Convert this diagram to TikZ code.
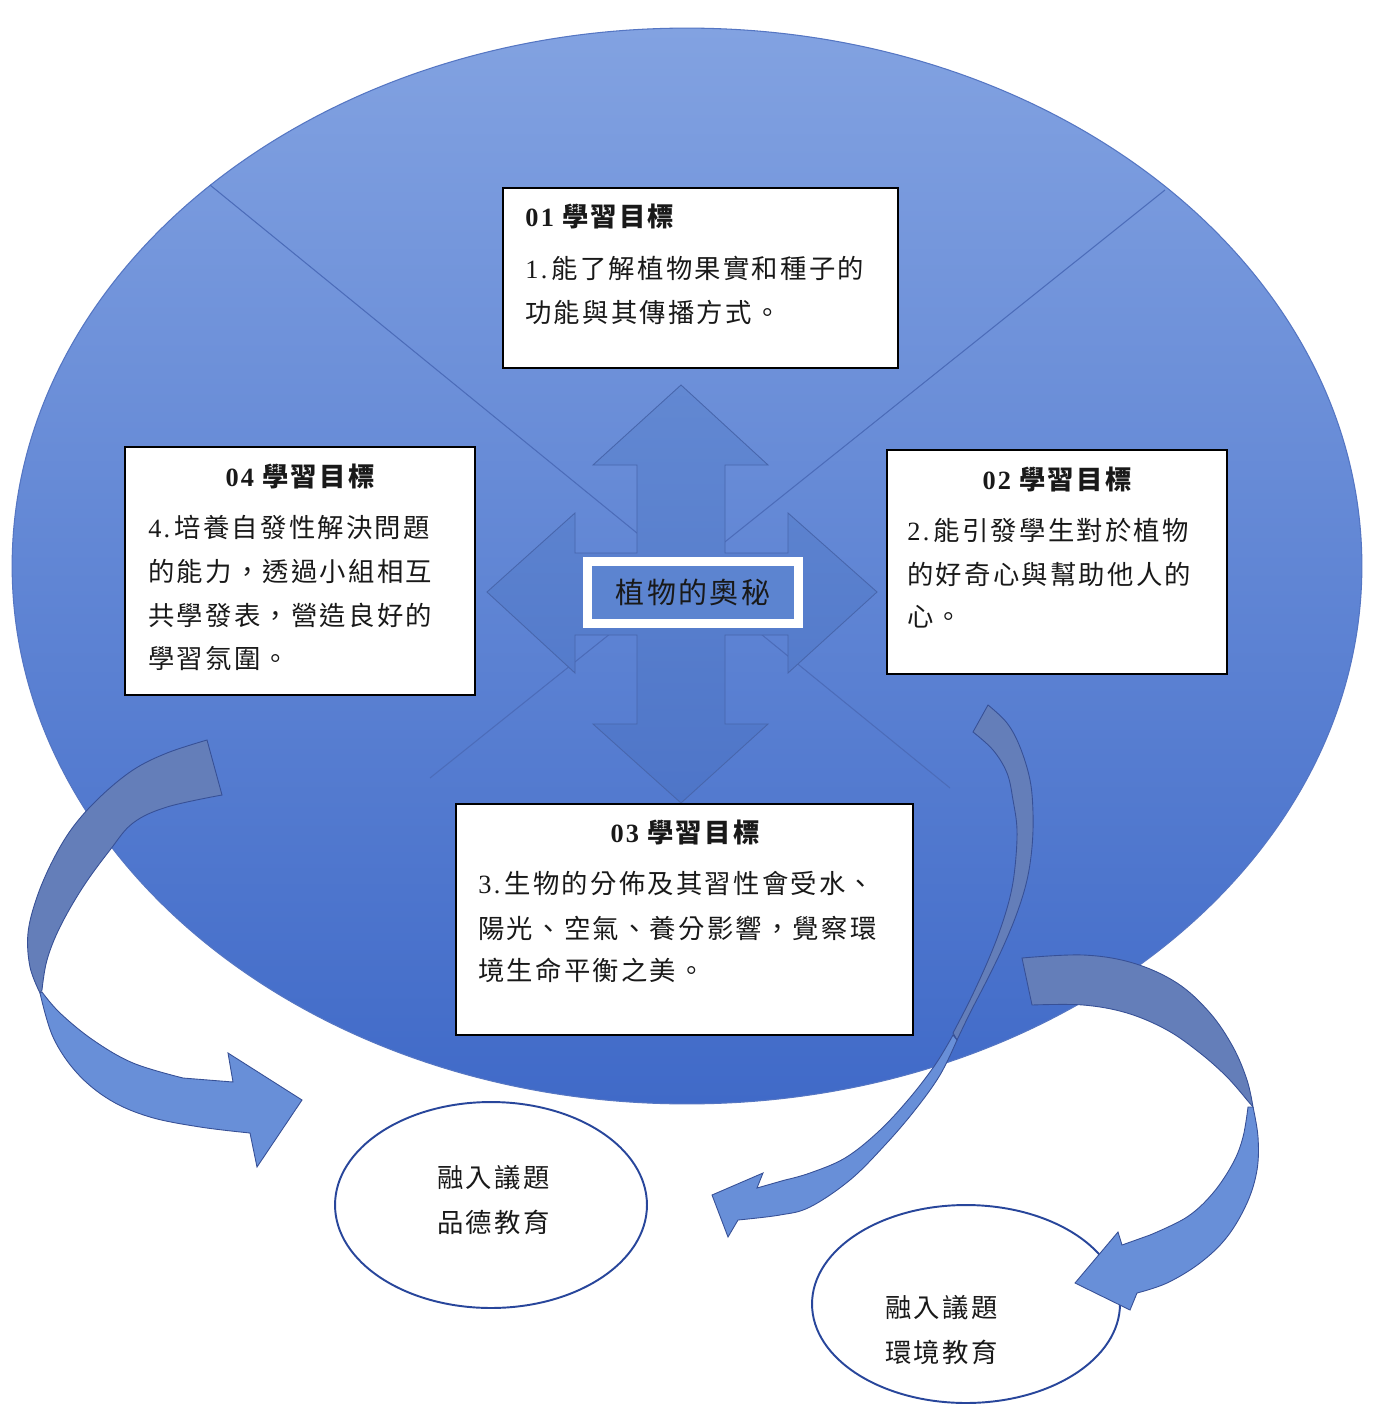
\documentclass[tikz,border=0pt]{standalone}
\usepackage{fontspec}
\setmainfont{Noto Sans CJK TC}[LetterSpace=8.5]
\newfontfamily\dg{Liberation Serif}[LetterSpace=8.5]
\usetikzlibrary{shapes.geometric}
\definecolor{ellTop}{RGB}{130,162,225}
\definecolor{ellBot}{RGB}{64,106,200}
\definecolor{ellEdge}{RGB}{85,118,195}
\definecolor{xline}{RGB}{76,108,185}
\definecolor{crossTop}{RGB}{98,136,210}
\definecolor{crossBot}{RGB}{78,117,200}
\definecolor{crossEdge}{RGB}{72,102,172}
\definecolor{centerFill}{RGB}{92,132,208}
\definecolor{ribDark}{RGB}{100,126,185}
\definecolor{ribLight}{RGB}{104,143,216}
\definecolor{ribEdge}{RGB}{55,80,150}
\definecolor{ovalEdge}{RGB}{40,70,155}
\definecolor{ink}{RGB}{25,25,25}
\begin{document}
\begin{tikzpicture}[x=0.02cm,y=-0.02cm,
  goalbox/.style={draw=black,fill=white,line width=0.9pt,inner sep=0pt},
  oval/.style={ellipse,draw=ovalEdge,fill=white,line width=1.1pt,inner sep=0pt},
  txt/.style={font=\fontsize{15pt}{18pt}\selectfont,text=ink,inner sep=0pt,anchor=west},
  ttl/.style={font=\fontsize{15pt}{18pt}\selectfont\bfseries,text=ink,inner sep=0pt},
  xl/.style={draw=xline,line width=0.6pt},
  ribD/.style={fill=ribDark,draw=ribEdge,line width=0.5pt},
  ribL/.style={fill=ribLight,draw=ribEdge,line width=0.5pt}]
\useasboundingbox (0,0) rectangle (1375,1405);
\fill[white] (0,0) rectangle (1375,1405);

% big ellipse
\node[ellipse,minimum width=27cm,minimum height=21.52cm,inner sep=0pt,
  top color=ellTop,bottom color=ellBot,draw=ellEdge,line width=0.6pt] (bg) at (687,566) {};

% diagonal lines (fade into the darker lower part)
\coordinate (tl) at (210,185);
\coordinate (tr) at (1165,190);
\coordinate (mid) at (686,573);
\coordinate (bl) at (430,778);
\coordinate (br) at (950,788);
\draw[xl] (tl) -- (mid) -- (br);
\draw[xl] (tr) -- (mid) -- (bl);

% four-way arrow
\shadedraw[top color=crossTop,bottom color=crossBot,draw=crossEdge,line width=0.5pt]
 (681,385) -- (768,465) -- (725,465) -- (725,553) -- (788,553) -- (788,513) -- (877,592)
 -- (788,673) -- (788,635) -- (725,635) -- (725,724) -- (768,724) -- (681,803)
 -- (593,724) -- (637,724) -- (637,635) -- (575,635) -- (575,673) -- (487,592)
 -- (575,513) -- (575,553) -- (637,553) -- (637,465) -- (593,465) -- cycle;

% centre title
\node[fill=centerFill,draw=white,line width=0.18cm,minimum width=4.23cm,minimum height=1.26cm,
  inner sep=0pt,text=ink,font=\fontsize{16.5pt}{19pt}\selectfont] (core) at (693,592.5) {植物的奧秘};

% goal boxes
\node[goalbox,minimum width=7.9cm,minimum height=3.6cm] (g1) at (700.5,278) {};
\node[goalbox,minimum width=6.8cm,minimum height=4.48cm] (g2) at (1057,562) {};
\node[goalbox,minimum width=9.14cm,minimum height=4.62cm] (g3) at (684.5,919.5) {};
\node[goalbox,minimum width=7cm,minimum height=4.96cm] (g4) at (300,571) {};

% goal texts
\node[ttl,anchor=west] (g1t) at (525,217) {{\dg 01} 學習目標};
\node[txt] (g1a) at (525,268) {{\dg 1.}\,能了解植物果實和種子的};
\node[txt] (g1b) at (525,312) {功能與其傳播方式。};

\node[ttl] (g2t) at (1057,480) {{\dg 02} 學習目標};
\node[txt] (g2a) at (907,530) {{\dg 2.}\,能引發學生對於植物};
\node[txt] (g2b) at (907,574) {的好奇心與幫助他人的};
\node[txt] (g2c) at (907,617) {心。};

\node[ttl] (g3t) at (685,833) {{\dg 03} 學習目標};
\node[txt] (g3a) at (478,884) {{\dg 3.}\,生物的分佈及其習性會受水、};
\node[txt] (g3b) at (478,928) {陽光、空氣、養分影響，覺察環};
\node[txt] (g3c) at (478,970) {境生命平衡之美。};

\node[ttl] (g4t) at (300,477) {{\dg 04} 學習目標};
\node[txt] (g4a) at (148,527) {{\dg 4.}\,培養自發性解決問題};
\node[txt] (g4b) at (148,571) {的能力，透過小組相互};
\node[txt] (g4c) at (148,615) {共學發表，營造良好的};
\node[txt] (g4d) at (148,659) {學習氛圍。};

% issue ovals
\node[oval,minimum width=6.24cm,minimum height=4.12cm] (o1) at (491,1205) {};
\node[oval,minimum width=6.16cm,minimum height=3.96cm] (o2) at (966,1304) {};
\node[txt] (o1a) at (437,1178) {融入議題};
\node[txt] (o1b) at (437,1222) {品德教育};
\node[txt] (o2a) at (885,1308) {融入議題};
\node[txt] (o2b) at (885,1352) {環境教育};

% curved arrow A (left)
\path[ribD] plot[smooth,tension=0.6] coordinates {(207,740) (167,753) (133,770) (100,797) (73,827) (53,860) (37,897) (28,933) (30,967) (40,993)}
 -- plot[smooth,tension=0.6] coordinates {(42,990) (47,960) (60,927) (83,887) (110,850) (133,823) (167,807) (222,795)} -- cycle;
\path[ribL] plot[smooth,tension=0.6] coordinates {(40,993) (53,1037) (77,1073) (110,1100) (150,1117) (200,1127) (250,1133)}
 -- (257,1167) -- (302,1100) -- (228,1053) -- (233,1082)
 -- plot[smooth,tension=0.6] coordinates {(183,1078) (133,1063) (93,1040) (60,1013) (42,992)} -- cycle;

% curved arrow B (middle)
\path[ribD] plot[smooth,tension=0.6] coordinates {(988,705) (1007,723) (1020,747) (1030,780) (1033,813) (1032,847) (1027,880) (1017,913) (1003,947) (987,980) (970,1013) (957,1040)}
 -- plot[smooth,tension=0.6] coordinates {(953,1033) (970,1000) (987,963) (1000,930) (1010,897) (1015,867) (1017,830) (1013,800) (1007,773) (993,750) (973,732)} -- cycle;
\path[ribL] plot[smooth,tension=0.6] coordinates {(957,1040) (940,1075) (915,1110) (885,1145) (850,1180) (810,1207) (780,1215) (738,1220)}
 -- (728,1237) -- (712,1195) -- (763,1173) -- (757,1188)
 -- plot[smooth,tension=0.6] coordinates {(785,1180) (810,1173) (845,1158) (878,1132) (908,1100) (935,1065) (953,1035)} -- cycle;

% curved arrow C (right)
\path[ribD] plot[smooth,tension=0.6] coordinates {(1022,958) (1083,955) (1133,963) (1177,983) (1210,1013) (1233,1047) (1247,1080) (1253,1107)}
 -- plot[smooth,tension=0.6] coordinates {(1247,1100) (1227,1077) (1200,1053) (1167,1030) (1127,1013) (1083,1005) (1032,1005)} -- cycle;
\path[ribL] plot[smooth,tension=0.6] coordinates {(1253,1107) (1258,1137) (1257,1170) (1247,1203) (1227,1237) (1200,1263) (1167,1283) (1137,1293)}
 -- (1130,1310) -- (1075,1283) -- (1118,1232) -- (1122,1245)
 -- plot[smooth,tension=0.6] coordinates {(1150,1235) (1187,1217) (1213,1193) (1233,1163) (1243,1137) (1248,1107)} -- cycle;
\end{tikzpicture}
\end{document}
